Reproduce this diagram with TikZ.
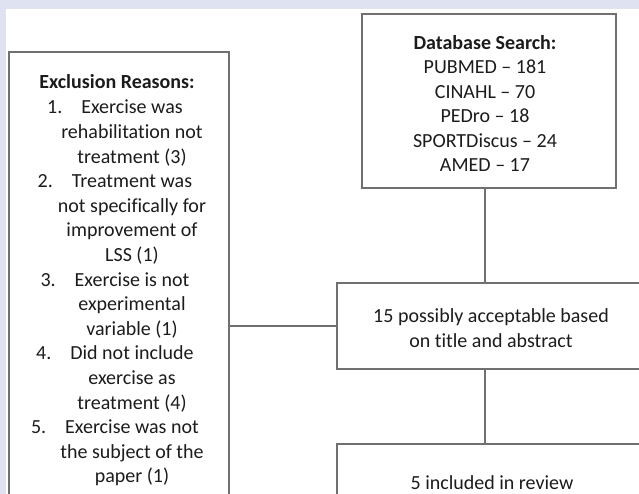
\documentclass[tikz,border=0pt]{standalone}
\usepackage{fontspec}
\setmainfont{Carlito}[Ligatures=CommonOff]
\definecolor{bgband}{RGB}{223,226,241}
\definecolor{boxline}{RGB}{112,112,112}
\definecolor{txt}{RGB}{28,28,28}
\tikzset{
  flowbox/.style={draw=boxline, line width=1.5pt, fill=white, rectangle, inner sep=0pt, outer sep=0pt},
  boxtext/.style={align=center, text=txt, inner sep=0pt, font=\fontsize{20}{24.4}\selectfont},
  conn/.style={draw=boxline, line width=1.5pt}
}
\begin{document}
\begin{tikzpicture}[x=1pt,y=-1pt]
\clip (0,0) rectangle (639,494);
\fill[bgband] (0,0) rectangle (639,494);
\fill[white] (6,9) rectangle (660,520);
% boxes
\node[flowbox, minimum width=254pt, minimum height=174pt] (db) at (489,101) {};
\node[flowbox, minimum width=323pt, minimum height=86pt] (mid) at (498.5,326) {};
\node[flowbox, minimum width=323pt, minimum height=86pt] (bot) at (498.5,487) {};
\node[flowbox, minimum width=220pt, minimum height=478pt] (excl) at (119,291) {};
\coordinate (spine) at (485,0);
% connectors
\draw[conn] (db.south -| spine) -- (mid.north -| spine);
\draw[conn] (mid.south -| spine) -- (bot.north -| spine);
\draw[conn] (mid.west -| excl.east) -- (mid.west);
% texts
\node[boxtext] (dbtext) at (485,103.5) {\textbf{Database Search:}\\PUBMED – 181\\CINAHL – 70\\PEDro – 18\\SPORTDiscus – 24\\AMED – 17};
\node[boxtext] (midtext) at (491,328) {15 possibly acceptable based\\on title and abstract};
\node[boxtext] (bottext) at (492,483) {5 included in review};
\node[boxtext, anchor=base] (exhead) at (117,89) {\textbf{Exclusion Reasons:}};
\node[boxtext, anchor=north, font=\fontsize{20}{24.6}\selectfont] (exlist) at (132,100) {\llap{1.\hspace{19pt}}Exercise was\\rehabilitation not\\treatment (3)\\
\llap{2.\hspace{19pt}}Treatment was\\not specifically for\\improvement of\\LSS (1)\\
\llap{3.\hspace{19pt}}Exercise is not\\experimental\\variable (1)\\
\llap{4.\hspace{19pt}}Did not include\\exercise as\\treatment (4)\\
\llap{5.\hspace{19pt}}Exercise was not\\the subject of the\\paper (1)};
\end{tikzpicture}
\end{document}
